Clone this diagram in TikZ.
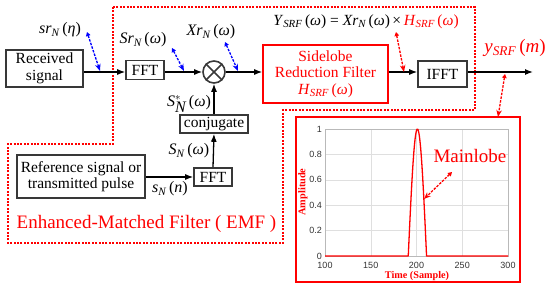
\documentclass[tikz,border=0pt]{standalone}
\usepackage{fontspec}
\setmainfont{Liberation Serif}
\newfontfamily\plotsans{Liberation Sans}
\usetikzlibrary{arrows.meta}
\newcommand{\mysub}[1]{\textsubscript{\itshape #1}}
\definecolor{boxgray}{gray}{0.22}
\definecolor{red}{RGB}{255,0,0}
\definecolor{blue}{RGB}{0,0,255}
\begin{document}
\begin{tikzpicture}[x=1pt,y=-1pt,
  blk/.style={draw=boxgray, line width=1.6pt, inner sep=0pt, align=center,
     font=\fontsize{15.5}{16.5}\selectfont},
  redblk/.style={draw=red, line width=1.6pt, inner sep=0pt, align=center,
     text=red, font=\fontsize{15.5}{16.5}\selectfont},
  lbl/.style={inner sep=0pt, font=\fontsize{16}{18}\selectfont},
  arr/.style={line width=1.3pt, -{Latex[length=8pt,width=6pt]}},
  dasharr/.style={line width=1.3pt, dash pattern=on 2.5pt off 1.3pt,
     {Triangle[length=4pt,width=4.5pt]}-{Stealth[length=7pt,width=5.5pt,open]}},
  emf/.style={draw=red, line width=1.3pt, dash pattern=on 2pt off 1.4pt},
  gridl/.style={gray!25, line width=0.5pt},
  tick/.style={inner sep=0pt, font=\plotsans\fontsize{9}{10}\selectfont, text=black!80}
]
\useasboundingbox (0,0) rectangle (550,290);

% EMF boundary
\draw[emf] (113,7) -- (475,7) -- (475,110) -- (283,110) -- (283,243) -- (8,243) -- (8,144) -- (113,144) -- cycle;

% blocks
\node[blk, minimum width=77pt, minimum height=37pt] (recv) at (44.5,68.5) {Received\\signal};
\node[blk, minimum width=38pt, minimum height=19pt] (fft1) at (145,70) {FFT};
\node[draw=boxgray, line width=1.6pt, circle, minimum size=22pt, inner sep=0pt] (mult) at (214,72) {};
\draw[boxgray, line width=1.6pt] (mult.north west) -- (mult.south east) (mult.north east) -- (mult.south west);
\node[blk, minimum width=68pt, minimum height=18pt] (conj) at (214,124) {conjugate};
\node[blk, minimum width=38pt, minimum height=18pt] (fft2) at (213,177) {FFT};
\node[blk, minimum width=128pt, minimum height=43pt] (ref) at (81,176.5) {Reference signal or\\transmitted pulse};
\node[redblk, minimum width=125pt, minimum height=58pt] (srf) at (325.5,74)
  {Sidelobe\\Reduction Filter\\\textit{H}\mysub{SRF}\,(\textit{ω})};
\node[blk, minimum width=49pt, minimum height=26pt] (ifft) at (442.5,74) {IFFT};
\coordinate (out) at (533,72);

% connectors
\draw[arr] (recv.east |- mult) -- (fft1.west |- mult);
\draw[arr] (fft1.east |- mult) -- (mult.west);
\draw[arr] (mult.east) -- (srf.west |- mult);
\draw[arr] (srf.east |- mult) -- (ifft.west |- mult);
\draw[arr] (ifft.east |- mult) -- (out);
\draw[arr] (conj.north) -- (mult.south);
\draw[arr] (fft2.north) -- (conj.south);
\draw[arr] (ref.east |- fft2) -- (fft2.west);

% labels
\node[lbl] (l1) at (60,30) {\textit{sr}\mysub{N}\,(\textit{η})};
\node[lbl] (l2) at (143,40) {\textit{Sr}\mysub{N}\,(\textit{ω})};
\node[lbl] (l3) at (211,32) {\textit{Xr}\mysub{N}\,(\textit{ω})};
\node[lbl] (l4) at (189,104) {$\textit{S}^{*}_{\textit{N}}$\,(\textit{ω})};
\node[lbl] (l5) at (189,151) {\textit{S}\mysub{N}\,(\textit{ω})};
\node[lbl] (l6) at (170,189) {\textit{s}\mysub{N}\,(\textit{n})};
\node[lbl, font=\fontsize{15.5}{17}\selectfont] (l7) at (366,22)
  {\textit{Y}\mysub{SRF}\,(\textit{ω}) = \textit{Xr}\mysub{N}\,(\textit{ω})\,×\,\textcolor{red}{\textit{H}\mysub{SRF}\,(\textit{ω})}};
\node[lbl, text=red, font=\fontsize{19}{21}\selectfont] (l8) at (515,48) {\textit{y}\mysub{SRF}\,(\textit{m})};
\node[lbl, text=red, font=\fontsize{19}{21}\selectfont] (emfl) at (146.5,224) {Enhanced-Matched Filter ( EMF )};

% dashed pointer arrows
\coordinate (p1s) at (87,32);   \coordinate (p1e) at (100,71);
\coordinate (p2s) at (172,48);  \coordinate (p2e) at (184,71);
\coordinate (p3s) at (225,42);  \coordinate (p3e) at (238,71);
\coordinate (p4s) at (396,32);  \coordinate (p4e) at (404,72);
\coordinate (p5s) at (505,74);  \coordinate (p5e) at (498,117);
\coordinate (p6s) at (452,172); \coordinate (p6e) at (424,199);
\draw[dasharr, blue] (p1s) -- (p1e);
\draw[dasharr, blue] (p2s) -- (p2e);
\draw[dasharr, blue] (p3s) -- (p3e);
\draw[dasharr, red] (p4s) -- (p4e);
\draw[dasharr, red] (p5s) -- (p5e);

% plot panel
\node[draw=red, line width=1.6pt, minimum width=224pt, minimum height=165pt, inner sep=0pt] (panel) at (408,199.5) {};
\foreach \v in {150,200,250} \draw[gridl] ({325+(\v-100)*0.915},129) -- ({325+(\v-100)*0.915},256);
\foreach \a in {0.2,0.4,0.6,0.8} \draw[gridl] (325,{256-127*\a}) -- (508,{256-127*\a});
\draw[gray!55, line width=0.6pt] (325,129) rectangle (508,256);
\foreach \v in {100,150,200,250,300} \node[tick] at ({325+(\v-100)*0.915},265) {\v};
\foreach \a/\t in {0/0,0.2/0.2,0.4/0.4,0.6/0.6,0.8/0.8,1/1} \node[tick, anchor=east] at (322,{256-127*\a}) {\t};
\draw[red, line width=1.3pt, line join=round] (325,256) -- ({325+91*0.915},256)
  -- plot[domain=191:211, samples=41] ({325+(\x-100)*0.915},{256-127*cos(9*(\x-201))})
  -- (508,256);
\node[rotate=90, text=red, font=\bfseries\fontsize{10.3}{11}\selectfont, inner sep=0pt] (ylab) at (303,192) {Amplitude};
\node[text=red, font=\bfseries\fontsize{10.2}{11}\selectfont, inner sep=0pt] (xlab) at (417,276) {Time (Sample)};
\node[lbl, text=red, font=\fontsize{19}{21}\selectfont] (ml) at (470,156) {Mainlobe};
\draw[dasharr, red] (p6s) -- (p6e);
\end{tikzpicture}
\end{document}
